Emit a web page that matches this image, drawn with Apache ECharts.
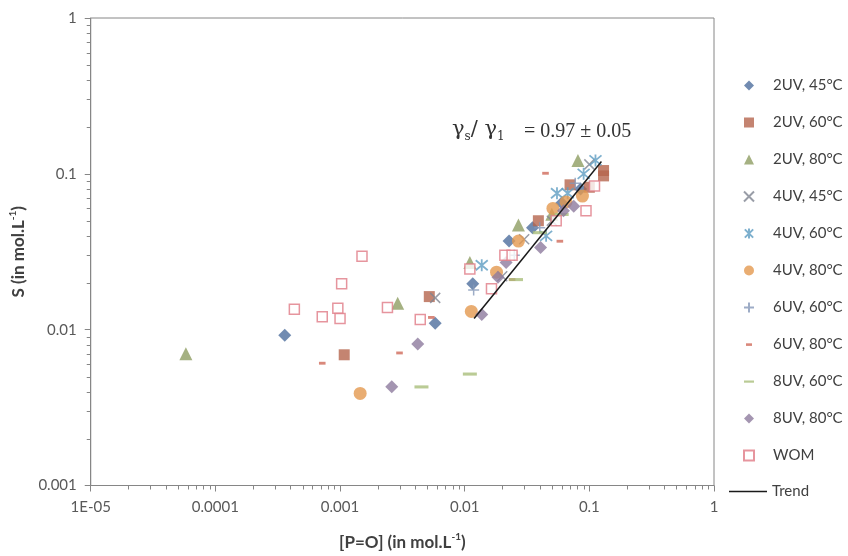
<!DOCTYPE html>
<html>
<head>
<meta charset="utf-8">
<script src="https://cdn.jsdelivr.net/npm/echarts@6/dist/echarts.min.js"></script>
<style>
html,body{margin:0;padding:0;background:#fff;}
#chart{width:848px;height:556px;}
</style>
</head>
<body>
<div id="chart"></div>
<script>
// ---------- data ----------
const xTickLabels = ['1E-05', '0.0001', '0.001', '0.01', '0.1', '1'];
const yTickLabels = ['0.001', '0.01', '0.1', '1'];
const seriesNames = ['2UV, 45°C', '2UV, 60°C', '2UV, 80°C', '4UV, 45°C', '4UV, 60°C', '4UV, 80°C',
  '6UV, 60°C', '6UV, 80°C', '8UV, 60°C', '8UV, 80°C', 'WOM', 'Trend'];

const s2UV45 = [[0.00036, 0.0092], [0.0058, 0.011], [0.0116, 0.0197], [0.0227, 0.037], [0.035, 0.045], [0.06, 0.065], [0.085, 0.08]];
const s2UV60 = [[0.00108, 0.0069], [0.0052, 0.0163], [0.039, 0.050], [0.07, 0.085], [0.13, 0.105], [0.13, 0.097], [0.1, 0.082]];
const s2UV80 = [[0.000058, 0.0070], [0.0029, 0.0148], [0.011, 0.027], [0.027, 0.047], [0.081, 0.122], [0.05, 0.055]];
const s4UV45 = [[0.0058, 0.016], [0.03, 0.038], [0.1, 0.115], [0.05, 0.05], [0.02, 0.022]];
const s4UV60 = [[0.0137, 0.0259], [0.055, 0.075], [0.067, 0.075], [0.112, 0.122], [0.09, 0.1], [0.045, 0.04]];
const s4UV80 = [[0.00145, 0.0039], [0.0113, 0.0131], [0.018, 0.0234], [0.027, 0.037], [0.051, 0.06], [0.065, 0.066], [0.088, 0.072]];
const s6UV60 = [[0.0118, 0.018], [0.077, 0.087], [0.04, 0.045], [0.025, 0.03]];
const s6UV80 = [[0.00072, 0.0061], [0.003, 0.0071], [0.0054, 0.012], [0.0445, 0.101], [0.058, 0.037], [0.024, 0.021]];
const s8UV60 = [[0.0045, 0.0043], [0.011, 0.0052], [0.0258, 0.021], [0.04, 0.042], [0.06, 0.055]];
const s8UV80 = [[0.0026, 0.0043], [0.0042, 0.0081], [0.0137, 0.0125], [0.0185, 0.0217], [0.0215, 0.027], [0.0406, 0.0337], [0.062, 0.058], [0.075, 0.062]];
const sWOM = [[0.00043, 0.0135], [0.00072, 0.0121], [0.00103, 0.0197], [0.00096, 0.0137], [0.001, 0.0118], [0.0015, 0.0296],
  [0.0024, 0.0139], [0.0044, 0.0116], [0.011, 0.0245], [0.0164, 0.0183], [0.021, 0.030], [0.024, 0.030], [0.0542, 0.050], [0.094, 0.058], [0.11, 0.0835]];
const trendLine = [[0.0119, 0.0118], [0.125, 0.120]];

// ---------- chart ----------
const X_MIN = 1e-5, X_MAX = 1, Y_MIN = 1e-3, Y_MAX = 1;
const AXIS_COLOR = '#868686';
const FONT = 'Lato';

const minorX = [], minorY = [];
for (let d = -5; d < 0; d++) for (let k = 2; k <= 9; k++) minorX.push([k * Math.pow(10, d), Y_MIN]);
for (let d = -3; d < 0; d++) for (let k = 2; k <= 9; k++) minorY.push([X_MIN, k * Math.pow(10, d)]);

const PATH_X = 'path://M0,0L10,10M10,0L0,10';
const PATH_AST = 'path://M0,0L10,10M10,0L0,10M5,-1L5,11';
const PATH_PLUS = 'path://M5,0L5,10M0,5L10,5';
const PATH_DASH_S = 'path://M0,0M10,10M2,3.8h6v2.6h-6z';
const PATH_DASH_L = 'path://M0,0M10,10M0,4h10v2.2h-10z';

function sc(name, data, symbol, size, style) {
  return { type: 'scatter', name, data, symbol, symbolSize: size, itemStyle: style, z: 3, silent: true };
}

const legendText = { color: '#404040', fontSize: 15, fontFamily: FONT };

const chart = echarts.init(document.getElementById('chart'), null, { renderer: 'canvas' });
chart.setOption({
  animation: false,
  backgroundColor: '#fff',
  textStyle: { fontFamily: FONT },
  grid: { left: 78, right: 134, top: 18, bottom: 65, show: true, borderColor: AXIS_COLOR, borderWidth: 1 },
  xAxis: {
    type: 'log', logBase: 10, min: X_MIN, max: X_MAX,
    splitLine: { show: false },
    axisLine: { lineStyle: { color: AXIS_COLOR, width: 1 } },
    axisTick: { show: true, length: 6, lineStyle: { color: AXIS_COLOR } },
    axisLabel: {
      color: '#595959', fontSize: 15, fontFamily: FONT, margin: 14,
      formatter: v => xTickLabels[Math.round(Math.log10(v)) + 5]
    },
    name: '{b|[P=O] (in mol.L}{sup|-1}{b|)}',
    nameLocation: 'middle', nameGap: 46,
    nameTextStyle: {
      rich: {
        b: { fontSize: 17, fontWeight: 'bold', fontFamily: FONT, color: '#404040', lineHeight: 22 },
        sup: { fontSize: 10, fontWeight: 'bold', fontFamily: FONT, color: '#404040', lineHeight: 12, verticalAlign: 'top' }
      }
    }
  },
  yAxis: {
    type: 'log', logBase: 10, min: Y_MIN, max: Y_MAX,
    splitLine: { show: false },
    axisLine: { lineStyle: { color: AXIS_COLOR, width: 1 } },
    axisTick: { show: true, length: 6, lineStyle: { color: AXIS_COLOR } },
    axisLabel: {
      color: '#595959', fontSize: 15, fontFamily: FONT, margin: 14,
      formatter: v => yTickLabels[Math.round(Math.log10(v)) + 3]
    },
    name: '{b|S (in mol.L}{sup|-1}{b|)}',
    nameLocation: 'middle', nameGap: 34,
    nameTextStyle: {
      rich: {
        b: { fontSize: 17, fontWeight: 'bold', fontFamily: FONT, color: '#404040', lineHeight: 22 },
        sup: { fontSize: 10, fontWeight: 'bold', fontFamily: FONT, color: '#404040', lineHeight: 12, verticalAlign: 'top' }
      }
    }
  },
  legend: [
    {
      orient: 'vertical', left: 743, top: 78, padding: 0,
      itemWidth: 10, itemHeight: 10, itemGap: 22,
      textStyle: Object.assign({ padding: [0, 0, 0, 14] }, legendText),
      data: seriesNames.slice(0, 11),
      selectedMode: false
    },
    {
      orient: 'vertical', left: 729, top: 484, padding: 0,
      itemWidth: 38, itemHeight: 1.5,
      textStyle: legendText,
      data: [{ name: seriesNames[11], icon: 'rect' }],
      selectedMode: false
    }
  ],
  series: [
    sc(seriesNames[0], s2UV45, 'diamond', 13, { color: '#4E6E9E' }),
    sc(seriesNames[1], s2UV60, 'rect', 11, { color: '#B5654D' }),
    sc(seriesNames[2], s2UV80, 'triangle', 13, { color: '#8E9D63' }),
    sc(seriesNames[3], s4UV45, PATH_X, 10, { color: 'transparent', borderColor: '#7F8491', borderWidth: 1.5 }),
    sc(seriesNames[4], s4UV60, PATH_AST, 12, { color: 'transparent', borderColor: '#5E9CC2', borderWidth: 1.8 }),
    sc(seriesNames[5], s4UV80, 'circle', 13, { color: '#E3984F' }),
    sc(seriesNames[6], s6UV60, PATH_PLUS, 11, { color: 'transparent', borderColor: '#8497B8', borderWidth: 1.5 }),
    sc(seriesNames[7], s6UV80, PATH_DASH_S, 11, { color: '#D06A5A' }),
    sc(seriesNames[8], s8UV60, PATH_DASH_L, 14, { color: '#A9BE7B' }),
    sc(seriesNames[9], s8UV80, 'diamond', 13, { color: '#8D7A9E' }),
    sc(seriesNames[10], sWOM, 'rect', 10, { color: '#ffffff', borderColor: '#E07A86', borderWidth: 1.5 }),
    {
      type: 'line', name: seriesNames[11], data: trendLine, symbol: 'none', z: 4, silent: true,
      lineStyle: { color: '#1a1a1a', width: 1.5 }, itemStyle: { color: '#1a1a1a' }
    },
    {
      type: 'custom', name: 'minorX', data: minorX, clip: false, silent: true, z: 1,
      renderItem: (params, api) => {
        const p = api.coord([api.value(0), api.value(1)]);
        const x = Math.round(p[0]) + 0.5;
        return { type: 'line', shape: { x1: x, y1: p[1], x2: x, y2: p[1] + 4 }, style: { stroke: AXIS_COLOR, lineWidth: 1 } };
      }
    },
    {
      type: 'custom', name: 'minorY', data: minorY, clip: false, silent: true, z: 1,
      renderItem: (params, api) => {
        const p = api.coord([api.value(0), api.value(1)]);
        const y = Math.round(p[1]) + 0.5;
        return { type: 'line', shape: { x1: p[0] - 4, y1: y, x2: p[0], y2: y }, style: { stroke: AXIS_COLOR, lineWidth: 1 } };
      }
    }
  ],
  graphic: [
    {
      type: 'text', left: 452, top: 119, silent: true,
      style: {
        text: '{g|γ}{s|s}{g|/ γ}{s|1}',
        rich: {
          g: { fontFamily: 'DejaVu Serif', fontSize: 21, fill: '#333', lineHeight: 26 },
          s: { fontFamily: 'DejaVu Serif', fontSize: 12, fill: '#333', lineHeight: 14, verticalAlign: 'bottom' }
        }
      }
    },
    {
      type: 'text', left: 524, top: 120, silent: true,
      style: {
        text: '= 0.97 ± 0.05',
        fontFamily: 'Liberation Serif', fontSize: 20, fill: '#333', lineHeight: 24
      }
    }
  ]
});
</script>
</body>
</html>
